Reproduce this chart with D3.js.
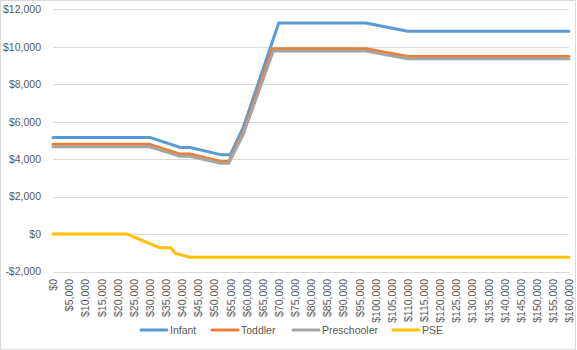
<!DOCTYPE html>
<html>
<head>
<meta charset="utf-8">
<script src="https://cdn.jsdelivr.net/npm/d3@7"></script>
<style>
  html, body { margin: 0; padding: 0; background: #fff; }
  svg { display: block; font-family: "Liberation Sans", Arial, sans-serif; }
</style>
</head>
<body>
<svg id="chart" width="577" height="350"></svg>
<script>
// ---- data ----
const seriesNames = ["Infant", "Toddler", "Preschooler", "PSE"];
const seriesColors = ["#5b9bd5", "#ed7d31", "#a5a5a5", "#ffc000"];

const infantIncome = [0, 30000, 39500, 42500, 52000, 55000, 59000, 70000, 97000, 110000, 160000];
const infantValue  = [5160, 5160, 4620, 4620, 4240, 4240, 5700, 11270, 11270, 10830, 10830];

const toddlerIncome = [0, 30000, 39500, 42500, 52000, 54500, 59000, 68000, 97000, 110000, 160000];
const toddlerValue  = [4790, 4790, 4270, 4270, 3880, 3880, 5450, 9900, 9900, 9480, 9480];

const preschoolIncome = [0, 30000, 39500, 42500, 52000, 54500, 59000, 68300, 97000, 110000, 160000];
const preschoolValue  = [4660, 4660, 4150, 4150, 3780, 3780, 5330, 9770, 9770, 9360, 9360];

const pseIncome = [0, 23000, 25000, 33000, 36500, 38000, 42500, 160000];
const pseValue  = [0, 0, -150, -730, -730, -1030, -1240, -1240];

const xTicks = d3.range(0, 160001, 5000);
const yTicks = [-2000, 0, 2000, 4000, 6000, 8000, 10000, 12000];

// ---- chart ----
const svg = d3.select("#chart");
const W = 577, H = 350;

svg.append("rect")
  .attr("x", 0.5).attr("y", 0.5)
  .attr("width", W - 2).attr("height", H - 1)
  .attr("fill", "#fff").attr("stroke", "#d9d9d9");

const x = d3.scaleLinear().domain([0, 160000]).range([53, 569]);
const y = d3.scaleLinear().domain([-2000, 12000]).range([271.5, 9.3]);

const money = v => (v < 0 ? "-$" : "$") + d3.format(",")(Math.abs(v));

// gridlines
svg.append("g")
  .selectAll("line")
  .data(yTicks)
  .join("line")
  .attr("x1", x(0)).attr("x2", x(160000))
  .attr("y1", d => Math.round(y(d)) + 0.5)
  .attr("y2", d => Math.round(y(d)) + 0.5)
  .attr("stroke", "#d9d9d9").attr("stroke-width", 1);

// y axis labels
const yAxis = d3.axisLeft(y).tickValues(yTicks).tickFormat(money).tickSize(0).tickPadding(0);
const gy = svg.append("g").attr("transform", "translate(41,0)").call(yAxis);
gy.select(".domain").remove();
gy.selectAll("text")
  .attr("fill", "#595959")
  .attr("font-size", "10.5px")
  .attr("font-family", "Liberation Sans, Arial, sans-serif");

// x axis labels
const xAxis = d3.axisBottom(x).tickValues(xTicks).tickFormat(money).tickSize(0).tickPadding(0);
const gx = svg.append("g").attr("transform", "translate(0,279)").call(xAxis);
gx.select(".domain").remove();
gx.selectAll("text")
  .attr("fill", "#595959")
  .attr("font-size", "10.5px")
  .attr("font-family", "Liberation Sans, Arial, sans-serif")
  .attr("transform", "rotate(-90)")
  .attr("text-anchor", "end")
  .attr("x", 0)
  .attr("y", 0)
  .attr("dy", "0.35em");

// lines
const seriesData = [
  infantIncome.map((v, i) => [v, infantValue[i]]),
  toddlerIncome.map((v, i) => [v, toddlerValue[i]]),
  preschoolIncome.map((v, i) => [v, preschoolValue[i]]),
  pseIncome.map((v, i) => [v, pseValue[i]])
];

const line = d3.line().x(d => x(d[0])).y(d => y(d[1]));

svg.append("g")
  .selectAll("path")
  .data(seriesData)
  .join("path")
  .attr("d", line)
  .attr("fill", "none")
  .attr("stroke", (d, i) => seriesColors[i])
  .attr("stroke-width", 3)
  .attr("stroke-linejoin", "round")
  .attr("stroke-linecap", "round");

// legend
const legendX = [141, 212, 293, 393];
const lg = svg.append("g").attr("transform", "translate(0,330)");
seriesNames.forEach((name, i) => {
  lg.append("line")
    .attr("x1", legendX[i]).attr("x2", legendX[i] + 26)
    .attr("y1", 0).attr("y2", 0)
    .attr("stroke", seriesColors[i]).attr("stroke-width", 3)
    .attr("stroke-linecap", "round");
  lg.append("text")
    .attr("x", legendX[i] + 29).attr("y", 0)
    .attr("dy", "0.35em")
    .attr("fill", "#595959")
    .attr("font-size", "10.5px")
    .text(name);
});
</script>
</body>
</html>
